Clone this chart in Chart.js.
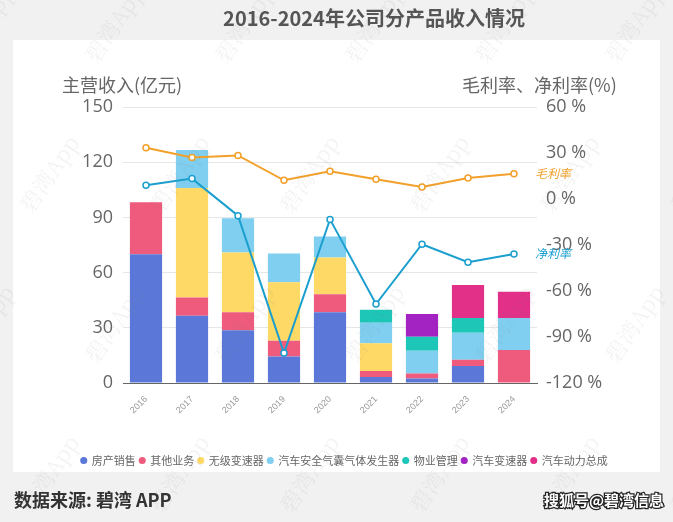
<!DOCTYPE html>
<html>
<head>
<meta charset="utf-8">
<script src="https://cdn.jsdelivr.net/npm/chart.js@4/dist/chart.umd.min.js"></script>
<style>
    html, body { margin: 0; padding: 0; background: #f1f1f1; }
    #wrap { width: 673px; height: 522px; position: relative; }
</style>
</head>
<body>
<div id="wrap"><canvas id="revenueChart" width="673" height="522"></canvas></div>
<script>
// 数据
const years = ['2016', '2017', '2018', '2019', '2020', '2021', '2022', '2023', '2024'];
const propertySales = [70, 36.5, 28.7, 14.4, 38.5, 3.3, 2.5, 9.3, 0];
const otherBusiness = [28.2, 9.9, 9.8, 8.5, 9.7, 3.2, 2.6, 3.4, 18];
const cvtGearbox = [0, 59.6, 32.4, 31.8, 20, 15.1, 0, 0, 0];
const airbagGenerator = [0, 20.6, 18.7, 15.7, 11.4, 11.1, 12.4, 14.6, 17.3];
const propertyMgmt = [0, 0, 0, 0, 0, 7.1, 7.6, 8, 0];
const autoGearbox = [0, 0, 0, 0, 0, 0, 12.4, 0, 0];
const powertrain = [0, 0, 0, 0, 0, 0, 0, 18, 14.3];
const grossMargin = [33.4, 27, 28.4, 12.2, 18.1, 12.9, 7.9, 13.7, 16.4];
const netMargin = [9, 13.3, -10.9, -100.5, -13.3, -68.5, -29.5, -41.2, -35.8];
const leftTicks = [0, 30, 60, 90, 120, 150];
const rightTicks = [-120, -90, -60, -30, 0, 30, 60];

const CJK = '"Noto Sans CJK SC", "Noto Sans", sans-serif';

function barSet(label, data, color) {
    return {
        type: 'bar', label: label, data: data, backgroundColor: color,
        stack: 'rev', yAxisID: 'y', order: 2,
        barPercentage: 0.7, categoryPercentage: 1
    };
}

function lineSet(label, data, color) {
    return {
        type: 'line', label: label, data: data, yAxisID: 'y1', order: 1,
        borderColor: color, borderWidth: 2, tension: 0,
        pointRadius: 3, pointBorderWidth: 1.5,
        pointBackgroundColor: '#fff', pointBorderColor: color
    };
}

// 背景、标题、水印
const decoPlugin = {
    id: 'deco',
    beforeDraw(chart) {
        const ctx = chart.ctx;
        // 图例整体右移一点
        if (!chart.legend._shifted) {
            chart.legend.left += 8;
            chart.legend.right += 8;
            chart.legend._shifted = true;
        }
        ctx.save();
        ctx.fillStyle = '#f1f1f1';
        ctx.fillRect(0, 0, chart.width, chart.height);
        ctx.fillStyle = '#ffffff';
        ctx.fillRect(13, 40, 647, 432);

        ctx.fillStyle = '#555';
        ctx.font = 'bold 20px ' + CJK;
        ctx.textAlign = 'center';
        ctx.textBaseline = 'middle';
        ctx.fillText('2016-2024年公司分产品收入情况', 374, 18);

        ctx.fillStyle = '#666';
        ctx.font = '18px ' + CJK;
        ctx.textAlign = 'left';
        ctx.fillText('主营收入(亿元)', 62, 85);
        ctx.fillText('毛利率、净利率(%)', 462, 85);

        ctx.fillStyle = '#333';
        ctx.font = 'bold 18px ' + CJK;
        ctx.fillText('数据来源: 碧湾 APP', 14, 500);

        ctx.font = 'bold 15px ' + CJK;
        ctx.textAlign = 'right';
        ctx.lineWidth = 2.5;
        ctx.strokeStyle = '#222';
        ctx.strokeText('搜狐号@碧湾信息', 664, 500);
        ctx.fillStyle = '#fff';
        ctx.fillText('搜狐号@碧湾信息', 664, 500);
        ctx.restore();
    },
    afterDatasetsDraw(chart) {
        const ctx = chart.ctx;
        ctx.save();
        // 折线末端标签
        [[7, '毛利率', '#f2a02a'], [8, '净利率', '#1a9fcf']].forEach(([idx, text, color]) => {
            const meta = chart.getDatasetMeta(idx);
            const pt = meta.data[meta.data.length - 1];
            ctx.fillStyle = color;
            ctx.font = 'italic 12px ' + CJK;
            ctx.textAlign = 'left';
            ctx.textBaseline = 'middle';
            ctx.fillText(text, pt.x + 21, pt.y);
        });
        // 水印
        ctx.fillStyle = 'rgba(120,120,120,0.09)';
        ctx.font = '22px "Noto Serif CJK SC", ' + CJK;
        for (let gx = -40; gx < 720; gx += 130) {
            for (let gy = 60; gy < 560; gy += 150) {
                ctx.save();
                ctx.translate(gx + (gy % 300 === 60 ? 0 : 65), gy);
                ctx.rotate(-Math.PI / 3.2);
                ctx.fillText('碧湾App', 0, 0);
                ctx.restore();
            }
        }
        ctx.restore();
    }
};

const chart = new Chart(document.getElementById('revenueChart'), {
    data: {
        labels: years,
        datasets: [
            barSet('房产销售', propertySales, '#5b78d8'),
            barSet('其他业务', otherBusiness, '#ef5b7c'),
            barSet('无级变速器', cvtGearbox, '#fed966'),
            barSet('汽车安全气囊气体发生器', airbagGenerator, '#80cff1'),
            barSet('物业管理', propertyMgmt, '#1ec6b8'),
            barSet('汽车变速器', autoGearbox, '#a322c2'),
            barSet('汽车动力总成', powertrain, '#e22f88'),
            lineSet('毛利率', grossMargin, '#f2a02a'),
            lineSet('净利率', netMargin, '#1a9fcf')
        ]
    },
    plugins: [decoPlugin],
    options: {
        responsive: false,
        animation: false,
        layout: { padding: { top: 107, left: 0, right: 0, bottom: 46 } },
        plugins: {
            tooltip: { enabled: false },
            legend: {
                position: 'bottom',
                labels: {
                    filter: item => item.datasetIndex < 7,
                    usePointStyle: true,
                    pointStyle: 'circle',
                    boxWidth: 5,
                    boxHeight: 5,
                    padding: 4,
                    color: '#666',
                    font: { size: 11, family: CJK }
                }
            }
        },
        scales: {
            x: {
                stacked: true,
                grid: { display: false },
                border: { display: true, color: '#666' },
                ticks: {
                    color: '#999', font: { size: 9 },
                    maxRotation: 45, minRotation: 45, autoSkip: false
                },
                afterFit(scale) { scale.height = 68; }
            },
            y: {
                position: 'left',
                stacked: true,
                min: 0, max: 150,
                afterBuildTicks(scale) { scale.ticks = leftTicks.map(v => ({ value: v })); },
                grid: { color: '#e6e6e6', tickLength: 0, drawTicks: false },
                border: { display: false },
                ticks: {
                    color: '#666', padding: 10,
                    font: { size: 18, family: '"Open Sans", sans-serif' }
                },
                afterFit(scale) { scale.width = 123; }
            },
            y1: {
                position: 'right',
                min: -120, max: 60,
                afterBuildTicks(scale) { scale.ticks = rightTicks.map(v => ({ value: v })); },
                grid: { drawOnChartArea: false, drawTicks: false },
                border: { display: false },
                ticks: {
                    color: '#666', padding: 9,
                    font: { size: 18, family: '"Open Sans", sans-serif' },
                    callback: v => v + ' %'
                },
                afterFit(scale) { scale.width = 136; }
            }
        }
    }
});
</script>
</body>
</html>
